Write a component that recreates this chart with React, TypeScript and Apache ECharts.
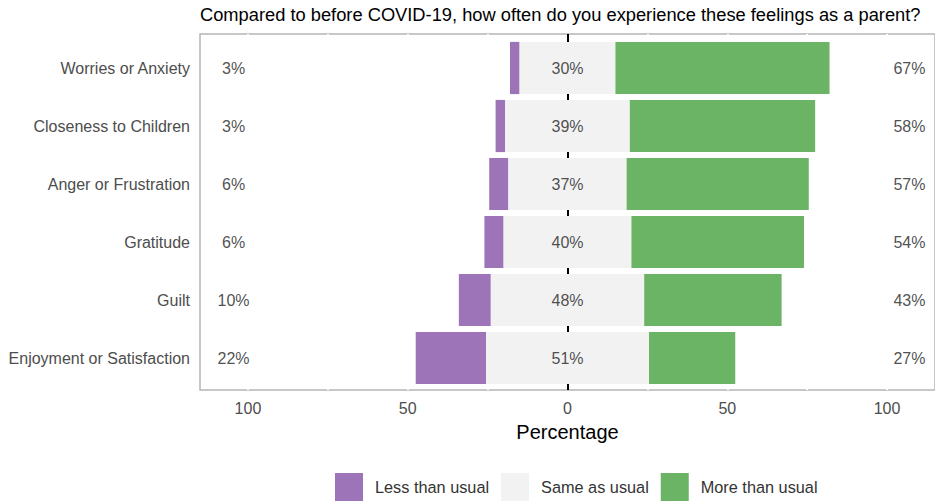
import React, { useEffect, useRef } from "react";
import * as echarts from "echarts";

const titleText = "Compared to before COVID-19, how often do you experience these feelings as a parent?";
const categories = [
  "Worries or Anxiety",
  "Closeness to Children",
  "Anger or Frustration",
  "Gratitude",
  "Guilt",
  "Enjoyment or Satisfaction",
];
const lessThanUsual = [3, 3, 6, 6, 10, 22];
const sameAsUsual = [30, 39, 37, 40, 48, 51];
const moreThanUsual = [67, 58, 57, 54, 43, 27];
const gridValues = [-100, -75, -50, -25, 25, 50, 75, 100];

const PURPLE = "#9d74b7";
const GREY = "#f2f2f2";
const GREEN = "#6bb466";
const FONT = "Liberation Sans, Arial, sans-serif";

export default function App() {
  const ref = useRef<HTMLDivElement>(null);
  useEffect(() => {
    document.body.style.margin = "0";
    const chart = echarts.init(ref.current!, null, { renderer: "svg" });
    const labelStyle = { show: true, position: "inside", fontSize: 16, color: "#222222", fontFamily: FONT };
    const xRange = { min: -115, max: 115 };
    const barCommon = { type: "bar", xAxisIndex: 1, yAxisIndex: 1, stack: "s", stackStrategy: "all" };
    chart.setOption({
      animation: false,
      textStyle: { fontFamily: FONT },
      title: {
        text: titleText,
        left: 195,
        top: 0,
        textStyle: { fontSize: 18.3, fontWeight: "normal", color: "#000", fontFamily: FONT },
      },
      legend: {
        data: ["Less than usual", "Same as usual", "More than usual"],
        left: 330,
        top: 468,
        itemWidth: 28,
        itemHeight: 28,
        itemGap: 12,
        icon: "rect",
        textStyle: { fontSize: 16.3, color: "#333", fontFamily: FONT, padding: [0, 0, 0, 7] },
      },
      grid: [
        {
          left: 200,
          right: -1,
          top: 34,
          bottom: 114,
          show: true,
          borderColor: "#b5b5b5",
          borderWidth: 1.5,
          backgroundColor: "#fff",
        },
        { left: 200, right: -1, top: 39, bottom: 117 },
      ],
      xAxis: [
        {
          gridIndex: 0,
          type: "value",
          ...xRange,
          splitNumber: 5,
          splitLine: { show: false },
          axisLine: { show: false },
          axisTick: { show: false },
          axisLabel: {
            fontSize: 16,
            color: "#4d4d4d",
            margin: 10,
            showMinLabel: false,
            showMaxLabel: false,
            formatter: (v: number) => (Math.round(v) % 50 === 0 ? String(Math.abs(Math.round(v))) : ""),
          },
          name: "Percentage",
          nameLocation: "middle",
          nameGap: 32,
          nameTextStyle: { fontSize: 20, color: "#000", fontFamily: FONT },
        },
        {
          gridIndex: 1,
          type: "value",
          ...xRange,
          show: false,
          splitLine: { show: false },
        },
      ],
      yAxis: [
        {
          gridIndex: 0,
          type: "value",
          min: 0,
          max: 1,
          show: false,
          splitLine: { show: false },
        },
        {
          gridIndex: 1,
          type: "category",
          data: categories,
          inverse: true,
          axisLine: { show: false },
          axisTick: { show: true, length: 4, alignWithLabel: true, lineStyle: { color: "#b5b5b5", width: 1.5 } },
          axisLabel: { fontSize: 16, color: "#4d4d4d", margin: 10 },
        },
      ],
      series: [
        {
          type: "scatter",
          xAxisIndex: 0,
          yAxisIndex: 0,
          data: [],
          z: 1,
          silent: true,
          markLine: {
            z: 1,
            silent: true,
            symbol: "none",
            label: { show: false },
            data: [
              { xAxis: 0, lineStyle: { color: "#000", width: 2, type: "solid" } },
              ...gridValues.map((g) => ({ xAxis: g, lineStyle: { color: "#fff", width: 2, type: "solid" } })),
            ],
          },
        },
        {
          ...barCommon,
          name: "offset",
          silent: true,
          barCategoryGap: "10%",
          itemStyle: { color: "rgba(0,0,0,0)" },
          data: sameAsUsual.map((s, i) => -(s / 2 + lessThanUsual[i])),
        },
        {
          ...barCommon,
          name: "Less than usual",
          itemStyle: { color: PURPLE },
          data: lessThanUsual,
        },
        {
          ...barCommon,
          name: "Same as usual",
          itemStyle: { color: GREY },
          data: sameAsUsual,
        },
        {
          ...barCommon,
          name: "More than usual",
          itemStyle: { color: GREEN },
          data: moreThanUsual,
        },
        {
          type: "scatter",
          xAxisIndex: 1,
          yAxisIndex: 1,
          symbolSize: 0,
          silent: true,
          z: 5,
          label: { ...labelStyle, formatter: (p: any) => p.data[2] },
          data: categories.map((c, i) => [-104.5, c, lessThanUsual[i] + "%"]),
        },
        {
          type: "scatter",
          xAxisIndex: 1,
          yAxisIndex: 1,
          symbolSize: 0,
          silent: true,
          z: 5,
          label: { ...labelStyle, formatter: (p: any) => p.data[2] },
          data: categories.map((c, i) => [0, c, sameAsUsual[i] + "%"]),
        },
        {
          type: "scatter",
          xAxisIndex: 1,
          yAxisIndex: 1,
          symbolSize: 0,
          silent: true,
          z: 5,
          label: { ...labelStyle, formatter: (p: any) => p.data[2] },
          data: categories.map((c, i) => [107, c, moreThanUsual[i] + "%"]),
        },
      ],
    });
    return () => chart.dispose();
  }, []);
  return <div ref={ref} style={{ width: 935, height: 504 }} />;
}
